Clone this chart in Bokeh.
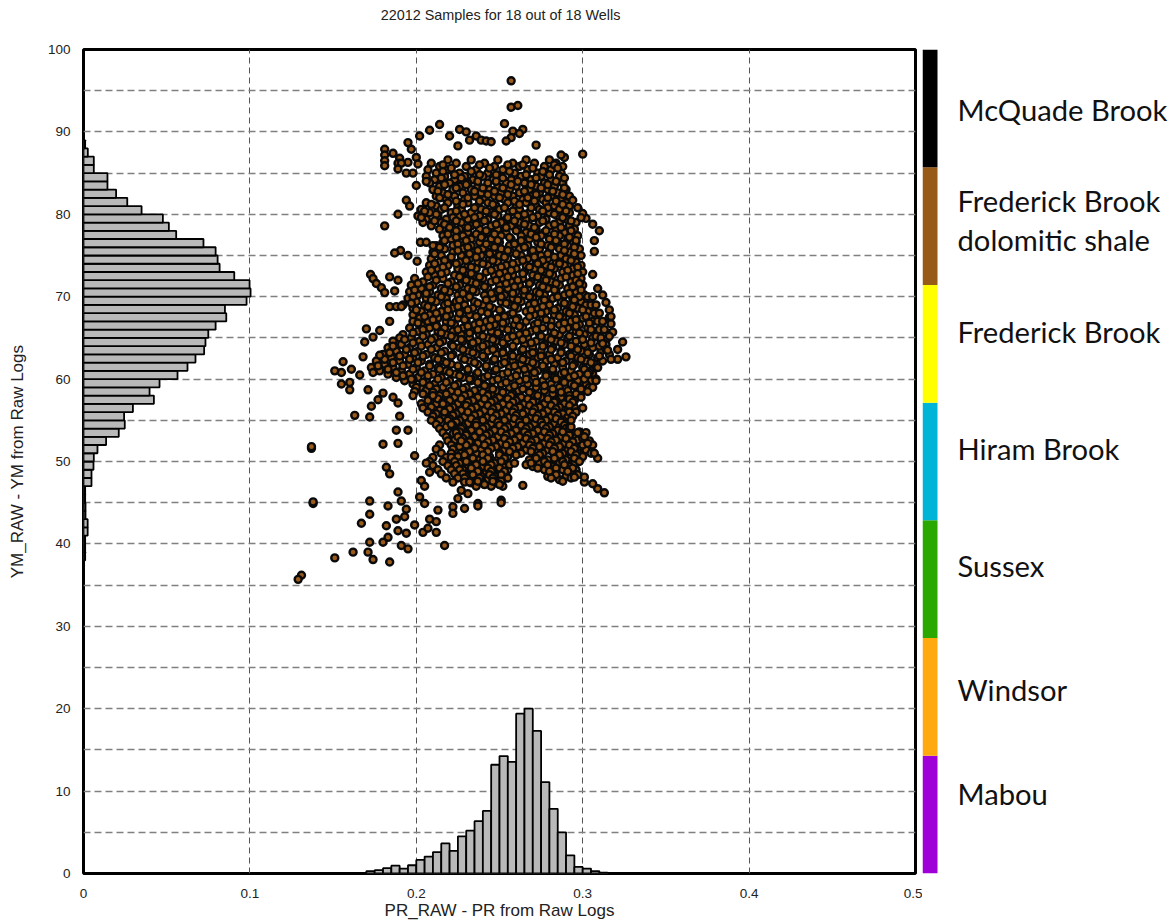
from bokeh.plotting import figure
from bokeh.layouts import row, column
from bokeh.models import FixedTicker, Grid, Range1d, ColumnDataSource
from bokeh.core.properties import value
from bokeh.embed import file_html
from bokeh.resources import INLINE

title_text = "22012 Samples for 18 out of 18 Wells"
x_label = "PR_RAW - PR from Raw Logs"
y_label = "YM_RAW - YM from Raw Logs"
x_ticks = [0, 0.1, 0.2, 0.3, 0.4, 0.5]
y_ticks = [0, 10, 20, 30, 40, 50, 60, 70, 80, 90, 100]

pr_bin_lo = [.17,.175,.18,.185,.19,.195,.2,.205,.21,.215,.22,.225,.23,.235,.24,.245,.25,.255,.26,.265,.27,.275,.28,.285,.29,.295,.3,.305,.31]
pr_hist = [.3,.4,.65,.95,.6,1.0,1.65,2.05,2.6,3.65,2.75,4.5,5.2,6.35,7.6,13.2,14.25,13.55,19.4,20,17.3,11.1,7.85,5,2.2,.8,.6,.3,.1]

ym_bin_lo = [38,39,40,41,42,43,44,45,46,47,48,49,50,51,52,53,54,55,56,57,58,59,60,61,62,63,64,65,66,67,68,69,70,71,72,73,74,75,76,77,78,79,80,81,82,83,84,85,86,87,88]
ym_hist = [.001,.001,.001,.0025,.0025,.0012,.0012,.001,.001,.0048,.0048,.006,.0062,.0084,.0136,.0212,.0248,.0244,.0297,.0423,.0397,.0457,.0565,.0625,.0673,.0725,.0733,.075,.0794,.0858,.085,.098,.1004,.0998,.0906,.0818,.0806,.0794,.0721,.0557,.0513,.0477,.0349,.0263,.0196,.0144,.0144,.0062,.0062,.0026,.001]

# outlying samples read one by one
sparse_pr = [.257,.257,.261,.253,.214,.208,.202,.226,.230,.220,.236,.264,.258,.262,.257,.254,.195,.197,.181,.186,.200,.181,.181,.181,.190,.189,.195,.191,.201,.189,.194,.198,.225,.232,.239,.242,.245,.272,.300,.289,.287,.200,.194,.196,.189,.181,.310,.306,.302,.300,.297,.294,.307,.307,.306,.309,.312,.314,.316,.316,
             .2025,.206,.210,.1905,.187,.195,.2005,.1725,.174,.176,.179,.181,.184,.189,.187,.184,.188,.191,.170,.178,.174,.169,.184,.168,.178,.156,.151,.155,.161,.166,.155,.160,.160,.171,.180,.177,.173,.189,.186,.163,.172,.190,.188,.180,.189,.137,.137,.195,.199,.206,.182,.184,.208,.203,.205,.189,.191,.202,.205,.172,.183,.172,.138,.138,.213,.222,.222,.229,.237,.237,.251,.251,.225,.227,.231,.264,.259,.269,.313,.309,.306,.301,.301,.295,.309,.307,.303,.301,.297,.293,.293,
             .167,.182,.188,.194,.193,.189,.194,.199,.204,.212,.208,.212,.207,.183,.172,.180,.171,.174,.162,.151,.191,.195,.184,.217,.131,.129,.324,.326,.321,.321,.317,.312,.315,.318,.317,.317,.316,.303,.308,.299]
sparse_ym = [96.2,93.0,93.2,91.0,90.9,90.2,89.5,90.3,90.0,89.5,89.5,90.3,90.1,89.8,89.3,88.9,88.7,87.9,87.9,87.4,86.9,87.2,86.5,85.9,86.8,86.2,86.3,86.2,86.1,85.5,85.0,85.0,88.3,89.0,89.0,88.9,88.8,88.4,87.3,86.9,87.2,83.5,81.7,81.0,80.0,78.6,78.0,78.8,79.5,80.1,80.8,81.7,76.8,75.5,72.7,71.0,70.2,69.3,68.4,67.5,
             76.6,76.6,76.2,75.6,75.3,75.0,74.3,72.7,72.2,71.6,71.1,70.5,72.4,72.0,70.7,68.8,68.8,68.8,66.1,65.9,65.1,64.5,67.0,62.7,62.9,62.1,61.0,60.8,61.2,60.5,59.4,59.6,58.7,58.7,58.3,57.5,56.7,57.1,57.8,55.6,55.4,55.5,53.8,52.1,52.2,51.6,51.8,53.8,50.7,49.8,49.3,48.5,48.7,47.7,47.0,46.3,45.2,45.7,44.9,45.2,44.6,43.6,44.9,45.1,44.1,44.5,43.7,44.3,44.9,44.6,45.3,45.0,45.5,46.5,46.1,47.1,49.8,49.8,46.2,46.7,47.3,47.5,48.1,48.1,50.4,51.0,52.2,53.0,53.5,54.2,55.0,
             42.5,42.2,43.0,44.2,43.3,41.6,41.3,42.3,41.4,41.4,43.0,42.7,41.9,40.8,40.2,40.2,39.0,38.1,39.0,38.3,39.8,39.4,37.8,39.8,36.2,35.7,64.5,62.7,63.6,62.4,62.4,64.3,63.5,65.7,66.7,67.6,65.2,60.6,59.8,79.6]

# the dense body of the cloud, read band by band: (YM, PR values in that band)
body_rows = [
 (86.2,[.209,.224,.241,.258,.271,.284]),
 (85.8,[.214,.230,.247,.262,.277,.288]),
 (85.4,[.207,.219,.236,.252,.267,.281]),
 (85.0,[.212,.226,.243,.259,.273,.287]),
 (84.6,[.206,.217,.229,.240,.251,.263,.275,.286]),
 (84.2,[.211,.223,.234,.246,.257,.269,.281]),
 (83.8,[.208,.220,.231,.243,.254,.265,.277,.288]),
 (83.4,[.214,.226,.237,.249,.260,.272,.283]),
 (83.0,[.210,.222,.233,.244,.256,.268,.279,.290]),
 (82.6,[.216,.228,.239,.251,.262,.274,.285]),
 (82.2,[.212,.223,.235,.247,.258,.269,.281,.292]),
 (81.8,[.218,.229,.241,.253,.264,.276,.287]),
 (81.4,[.206,.219,.231,.243,.255,.266,.278,.290]),
 (81.0,[.212,.225,.237,.248,.260,.272,.283,.292]),
 (80.6,[.203,.215,.227,.239,.250,.262,.274,.286]),
 (80.2,[.208,.221,.233,.245,.256,.268,.280,.292]),
 (79.8,[.201,.213,.226,.238,.249,.261,.273,.285]),
 (79.4,[.206,.218,.231,.243,.254,.266,.278,.290]),
 (79.0,[.204,.215,.227,.239,.251,.262,.274,.286,.296]),
 (78.6,[.209,.221,.233,.245,.257,.268,.280,.292]),
 (78.2,[.214,.226,.238,.249,.261,.272,.284,.295]),
 (77.8,[.219,.231,.243,.254,.266,.277,.289]),
 (77.4,[.216,.228,.240,.251,.263,.275,.286,.297]),
 (77.0,[.221,.233,.245,.257,.268,.280,.291]),
 (76.6,[.216,.227,.238,.250,.262,.273,.285,.296]),
 (76.2,[.212,.222,.233,.244,.256,.267,.279,.291]),
 (75.8,[.217,.228,.240,.251,.262,.274,.286,.298]),
 (75.4,[.210,.222,.234,.246,.257,.269,.280,.292]),
 (75.0,[.215,.227,.239,.250,.263,.275,.287,.299]),
 (74.6,[.209,.220,.232,.244,.255,.267,.279,.290]),
 (74.2,[.214,.226,.237,.249,.261,.272,.284,.296]),
 (73.8,[.208,.219,.231,.243,.254,.266,.278,.289,.299]),
 (73.4,[.213,.225,.236,.248,.260,.271,.283,.294]),
 (73.0,[.206,.218,.230,.242,.253,.265,.277,.288,.300]),
 (72.6,[.211,.223,.235,.247,.258,.270,.282,.294]),
 (72.2,[.199,.216,.228,.240,.252,.264,.276,.287,.299]),
 (71.8,[.204,.221,.233,.245,.257,.269,.281,.293]),
 (71.4,[.197,.210,.226,.238,.250,.262,.274,.286,.300]),
 (71.0,[.203,.215,.231,.243,.255,.267,.279,.291]),
 (70.6,[.196,.208,.220,.236,.248,.260,.272,.284,.296]),
 (70.2,[.201,.213,.225,.241,.253,.265,.277,.289,.301]),
 (69.8,[.195,.206,.218,.230,.246,.258,.270,.282,.294]),
 (69.4,[.200,.212,.224,.235,.251,.263,.275,.287,.299]),
 (69.0,[.192,.205,.217,.229,.240,.256,.268,.280,.292,.302]),
 (68.6,[.198,.210,.222,.234,.246,.261,.273,.285,.297]),
 (68.2,[.203,.215,.227,.239,.251,.266,.278,.290,.303]),
 (67.8,[.198,.208,.220,.232,.244,.256,.271,.283,.295]),
 (67.4,[.202,.213,.225,.237,.249,.261,.276,.288,.300]),
 (67.0,[.198,.207,.218,.230,.242,.254,.266,.281,.293,.306]),
 (66.6,[.203,.212,.223,.235,.247,.259,.271,.286,.298]),
 (66.2,[.196,.208,.217,.228,.240,.252,.264,.276,.291,.303]),
 (65.8,[.201,.213,.222,.233,.245,.257,.269,.281,.296,.308]),
 (65.4,[.192,.206,.218,.227,.238,.250,.262,.274,.286,.301]),
 (65.0,[.190,.197,.211,.223,.232,.243,.255,.267,.279,.291,.306]),
 (64.6,[.186,.202,.216,.228,.237,.248,.260,.272,.284,.296,.311]),
 (64.2,[.191,.207,.221,.233,.242,.253,.265,.277,.289,.301,.314]),
 (63.8,[.183,.196,.212,.226,.238,.247,.258,.270,.282,.294,.306]),
 (63.4,[.188,.201,.217,.231,.243,.252,.263,.275,.287,.299,.311]),
 (63.0,[.180,.193,.206,.222,.236,.248,.257,.268,.280,.292,.304,.316]),
 (62.6,[.185,.198,.211,.227,.241,.253,.262,.273,.285,.297,.309]),
 (62.2,[.176,.190,.203,.216,.232,.246,.258,.267,.278,.290,.302,.312]),
 (61.8,[.181,.195,.208,.221,.237,.251,.263,.272,.283,.295,.307]),
 (61.4,[.173,.186,.200,.213,.226,.242,.256,.268,.277,.288,.300,.309]),
 (61.0,[.178,.191,.205,.218,.231,.247,.261,.273,.282,.293,.305]),
 (60.6,[.183,.196,.210,.223,.236,.252,.266,.278,.287,.298,.306]),
 (60.2,[.188,.201,.215,.228,.241,.257,.271,.283,.292,.303]),
 (59.8,[.193,.206,.220,.233,.246,.262,.276,.288,.297,.305]),
 (59.4,[.198,.211,.225,.238,.251,.267,.281,.293,.302]),
 (59.0,[.203,.216,.230,.243,.256,.272,.286,.298,.304]),
 (58.6,[.206,.221,.235,.248,.261,.277,.291,.301]),
 (58.2,[.204,.218,.232,.245,.258,.270,.282,.296]),
 (57.8,[.209,.223,.237,.250,.263,.275,.287,.299]),
 (57.4,[.207,.220,.234,.247,.260,.272,.284,.295]),
 (57.0,[.212,.225,.239,.252,.265,.277,.289]),
 (56.6,[.209,.222,.236,.249,.262,.274,.286,.295]),
 (56.2,[.214,.227,.241,.254,.267,.279,.291]),
 (55.8,[.212,.224,.238,.251,.264,.276,.288]),
 (55.4,[.217,.229,.243,.256,.269,.281,.291]),
 (55.0,[.214,.226,.240,.253,.266,.278,.288]),
 (54.6,[.219,.231,.245,.258,.271,.283]),
 (54.2,[.218,.228,.242,.255,.268,.280,.286]),
 (53.8,[.223,.233,.247,.260,.273,.285,.291]),
 (53.4,[.222,.230,.244,.257,.270,.282,.295]),
 (53.0,[.226,.235,.249,.262,.275,.287,.296]),
 (52.6,[.223,.232,.246,.259,.272,.284,.297]),
 (52.2,[.228,.237,.251,.264,.277,.289,.302]),
 (51.8,[.226,.234,.248,.261,.274,.286,.299]),
 (51.4,[.231,.239,.253,.266,.279,.291,.302]),
 (51.0,[.227,.236,.250,.263,.276,.288,.297]),
 (50.6,[.225,.233,.244,.255,.271,.283,.293,.300]),
 (50.2,[.229,.238,.249,.268,.279,.290]),
 (49.8,[.226,.235,.247,.254,.274,.286,.295]),
 (49.4,[.231,.240,.252,.270,.282,.292]),
 (49.0,[.228,.237,.246,.255,.277,.288,.296]),
 (48.6,[.233,.242,.250,.282,.293]),
 (48.2,[.230,.239,.247,.254,.279,.290]),
 (47.8,[.235,.243,.252,.286]),
 (47.4,[.233,.240,.248]),
 (47.0,[.236,.245,.252]),
]

# a second reading of the same body, filling what the first leaves open
body_rows_b = [
 (86.6,[.219,.233,.249,.266,.280]),
 (86.0,[.216,.238,.255,.264,.283]),
 (85.6,[.221,.244,.270,.285]),
 (85.2,[.216,.233,.256,.276]),
 (84.8,[.223,.238,.248,.266,.280]),
 (84.4,[.215,.227,.252,.272,.289]),
 (84.0,[.206,.237,.248,.261,.284]),
 (83.6,[.217,.230,.257,.269,.279]),
 (83.2,[.224,.240,.252,.275,.289]),
 (82.8,[.213,.235,.247,.265,.282]),
 (82.4,[.219,.243,.255,.272,.288]),
 (82.0,[.214,.231,.250,.267,.279]),
 (81.6,[.224,.238,.259,.271,.284]),
 (81.2,[.209,.228,.246,.262,.288]),
 (80.8,[.217,.235,.253,.269,.279]),
 (80.4,[.205,.224,.242,.258,.276,.290]),
 (80.0,[.212,.229,.247,.265,.283]),
 (79.6,[.203,.222,.235,.255,.270,.288]),
 (79.2,[.211,.224,.241,.259,.276,.293]),
 (78.8,[.217,.236,.248,.265,.283]),
 (78.4,[.220,.231,.254,.271,.287]),
 (78.0,[.224,.242,.260,.278,.293]),
 (77.6,[.219,.236,.247,.269,.283]),
 (77.2,[.224,.239,.256,.272,.292]),
 (76.8,[.217,.230,.249,.263,.284,.296]),
 (76.4,[.225,.242,.259,.275,.289]),
 (76.0,[.214,.231,.247,.265,.281,.295]),
 (75.6,[.225,.237,.255,.270,.289]),
 (75.2,[.211,.232,.244,.260,.279,.295]),
 (74.8,[.221,.236,.253,.271,.283]),
 (74.4,[.217,.230,.246,.264,.276,.293]),
 (74.0,[.211,.224,.240,.258,.273,.286]),
 (73.6,[.216,.233,.251,.268,.281,.297]),
 (73.2,[.209,.228,.245,.257,.275,.291]),
 (72.8,[.215,.233,.250,.264,.280,.297]),
 (72.4,[.207,.226,.238,.255,.273,.290]),
 (72.0,[.212,.230,.248,.261,.278,.296]),
 (71.6,[.201,.219,.236,.254,.268,.284,.298]),
 (71.2,[.208,.224,.241,.259,.276,.294]),
 (70.8,[.199,.217,.234,.250,.265,.283,.299]),
 (70.4,[.206,.228,.245,.258,.274,.292]),
 (70.0,[.198,.215,.232,.251,.268,.285,.298]),
 (69.6,[.209,.226,.242,.261,.277,.295]),
 (69.2,[.197,.219,.237,.254,.271,.289]),
 (68.8,[.207,.225,.244,.259,.276,.294]),
 (68.4,[.200,.219,.231,.250,.269,.283,.300]),
 (68.0,[.212,.226,.243,.258,.275,.292]),
 (67.6,[.205,.218,.236,.253,.268,.286,.302]),
 (67.2,[.210,.229,.245,.260,.278,.296]),
 (66.8,[.201,.221,.238,.252,.273,.289,.304]),
 (66.4,[.212,.231,.244,.262,.281,.296]),
 (66.0,[.204,.225,.237,.255,.272,.288,.305]),
 (65.6,[.198,.215,.232,.249,.266,.283,.298,.310]),
 (65.2,[.204,.221,.240,.258,.275,.292,.308]),
 (64.8,[.193,.209,.227,.246,.264,.281,.300]),
 (64.4,[.198,.214,.234,.252,.269,.287,.305]),
 (64.0,[.186,.203,.222,.240,.258,.276,.293,.310]),
 (63.6,[.194,.209,.228,.246,.264,.281,.297,.314]),
 (63.2,[.184,.199,.215,.234,.252,.270,.287,.303]),
 (62.8,[.190,.204,.221,.240,.258,.275,.293,.310]),
 (62.4,[.181,.196,.213,.229,.247,.264,.281,.299]),
 (62.0,[.186,.201,.218,.235,.253,.270,.288,.305]),
 (61.6,[.177,.192,.208,.225,.242,.259,.276,.294]),
 (61.2,[.183,.198,.214,.231,.248,.265,.282,.301]),
 (60.8,[.174,.188,.203,.220,.237,.255,.271,.289,.304]),
 (60.4,[.192,.207,.226,.243,.260,.278,.295]),
 (60.0,[.198,.213,.232,.249,.266,.284,.301]),
 (59.6,[.204,.218,.237,.254,.272,.289]),
 (59.2,[.208,.223,.241,.259,.277,.295]),
 (58.8,[.212,.228,.246,.264,.282,.299]),
 (58.4,[.210,.225,.240,.252,.268,.287]),
 (58.0,[.214,.229,.243,.257,.273,.292]),
 (57.6,[.213,.227,.241,.255,.267,.279,.292]),
 (57.2,[.216,.231,.245,.258,.270,.283,.294]),
 (56.8,[.218,.230,.243,.256,.268,.281,.292]),
 (56.4,[.220,.233,.246,.259,.271,.284]),
 (56.0,[.217,.231,.245,.258,.270,.283,.292]),
 (55.6,[.222,.235,.248,.260,.273,.285]),
 (55.2,[.220,.233,.246,.259,.272,.284]),
 (54.8,[.224,.236,.249,.262,.275,.287]),
 (54.4,[.222,.236,.250,.263,.276,.289]),
 (54.0,[.227,.240,.253,.266,.278,.290]),
 (53.6,[.226,.238,.251,.265,.277,.288,.298]),
 (53.2,[.230,.242,.254,.267,.280,.292]),
 (52.8,[.228,.240,.253,.266,.279,.290,.300]),
 (52.4,[.232,.243,.256,.269,.281,.294]),
 (52.0,[.230,.241,.254,.268,.280,.292,.300]),
 (51.6,[.235,.245,.258,.270,.283,.295]),
 (51.2,[.232,.243,.256,.269,.282,.293]),
 (50.8,[.229,.240,.250,.260,.274,.286,.296]),
 (50.4,[.234,.243,.253,.272,.283,.295]),
 (50.0,[.230,.240,.251,.277,.288,.298]),
 (49.6,[.236,.245,.256,.266,.279,.289]),
 (49.2,[.233,.243,.250,.273,.284,.294]),
 (48.8,[.237,.245,.253,.280,.291]),
 (48.4,[.234,.244,.251,.284,.297]),
 (48.0,[.238,.246,.255,.281,.293]),
 (47.6,[.237,.246,.251,.288]),
 (47.2,[.241,.250]),
]

# samples along the edges of the body, lower left and right
body_rows_c = [
 (70.0,[.303,.306]),(69.0,[.305,.308]),(68.0,[.307,.310]),(67.0,[.309,.312]),
 (66.0,[.310,.313]),(65.0,[.311,.315]),
 (60.0,[.197,.308]),(59.0,[.200,.306]),(58.5,[.199,.303]),(58.0,[.198,.210]),
 (57.0,[.203,.216]),(56.5,[.204,.300]),(56.0,[.207,.296]),(55.5,[.210,.294]),
 (55.0,[.209,.219]),(54.5,[.212,.221]),(54.0,[.214,.292]),(53.5,[.216,.224,.302]),
 (53.0,[.218,.225]),(52.5,[.219,.227,.304]),(52.0,[.214,.221,.306]),(51.5,[.212,.222]),
 (51.0,[.215,.221,.305]),(50.5,[.210,.218,.221]),(50.0,[.208,.216,.223]),(49.5,[.210,.219,.224]),
 (49.0,[.213,.221,.226]),(48.5,[.215,.223,.228]),(48.0,[.218,.225,.229]),(47.5,[.222,.229,.232]),
]

legend_names = ["Mabou", "Windsor", "Sussex", "Hiram Brook", "Frederick Brook", "Frederick Brook", "McQuade Brook"]
band_colors = ["#a000d8", "#ffa90f", "#2aa800", "#00b4d8", "#ffff00", "#985a17", "#000000"]
band_lo = [0, 1, 2, 3, 4, 5, 6]

all_rows = body_rows + body_rows_b + body_rows_c
body_pr = [x for ym, xs in all_rows for x in xs]
body_ym = [ym for ym, xs in all_rows for x in xs]

t = figure(width=1160, height=28, x_range=Range1d(0, 1160), y_range=Range1d(0, 28),
           output_backend="svg", toolbar_location=None,
           min_border_left=0, min_border_right=0, min_border_top=0, min_border_bottom=0)
t.axis.visible = False
t.grid.visible = False
t.outline_line_color = None
t.text(x=[500], y=[14], text=[title_text], text_font=value("Liberation Sans"), text_font_size="14.4px",
       text_align="center", text_baseline="middle", text_color="#222222")

p = figure(frame_width=832, frame_height=824, x_range=Range1d(0, 0.5), y_range=Range1d(0, 100),
           output_backend="svg", toolbar_location=None, margin=(0, 0, 0, 4),
           min_border_left=71, min_border_top=21, min_border_bottom=47, min_border_right=7)
p.background_fill_color = "white"
p.outline_line_color = "black"
p.outline_line_width = 3
p.grid.visible = False

p.add_layout(Grid(dimension=0, ticker=FixedTicker(ticks=[.1, .2, .3, .4]),
                  grid_line_color="#555555", grid_line_width=1, grid_line_dash="6 4"))
p.add_layout(Grid(dimension=1, ticker=FixedTicker(ticks=list(range(5, 100, 5))),
                  grid_line_color="#808080", grid_line_width=1.4, grid_line_dash="7 4"))

for ax, ticks, label in ((p.xaxis[0], x_ticks, x_label), (p.yaxis[0], y_ticks, y_label)):
    ax.ticker = FixedTicker(ticks=ticks)
    ax.axis_line_color = None
    ax.major_tick_line_color = None
    ax.minor_tick_line_color = None
    ax.major_label_text_font = "Liberation Sans"
    ax.major_label_text_font_size = "13.5px"
    ax.major_label_text_color = "#222222"
    ax.axis_label = label
    ax.axis_label_text_font = "Liberation Sans"
    ax.axis_label_text_font_style = "normal"
    ax.axis_label_text_font_size = "17px"
    ax.axis_label_text_color = "#222222"
p.xaxis[0].major_label_overrides = {0: "0", 0.1: "0.1", 0.2: "0.2", 0.3: "0.3", 0.4: "0.4", 0.5: "0.5"}
p.xaxis[0].major_label_standoff = 9
p.xaxis[0].axis_label_standoff = 0
p.yaxis[0].major_label_standoff = 7
p.yaxis[0].axis_label_standoff = 18

p.quad(left=pr_bin_lo, right=[x + 0.005 for x in pr_bin_lo], bottom=0, top=pr_hist,
       fill_color="#b9b9b9", line_color="black", line_width=1.8)
p.quad(left=0, right=ym_hist, bottom=ym_bin_lo, top=[y + 1 for y in ym_bin_lo],
       fill_color="#b9b9b9", line_color="black", line_width=1.8)

src = ColumnDataSource(dict(x=body_pr + sparse_pr, y=body_ym + sparse_ym))
p.scatter("x", "y", source=src, marker="circle", size=7, fill_color="#9a5a1a",
          line_color="#0a0a0a", line_width=2.4)

q = figure(width=246, frame_height=824, x_range=Range1d(0, 246), y_range=Range1d(0, 7),
           output_backend="svg", toolbar_location=None,
           min_border_left=0, min_border_right=0, min_border_top=21, min_border_bottom=47)
q.axis.visible = False
q.grid.visible = False
q.outline_line_color = None
q.quad(left=0, right=15, bottom=band_lo, top=[b + 1 for b in band_lo], fill_color=band_colors, line_color=None)

lab_font = dict(text_font=value("Lato"), text_font_size="29.2px", text_baseline="middle", text_color="#111111")
q.text(x=[35] * 7, y=[0.677, 1.563, 2.62, 3.613, 4.605, 5.72, 6.49],
       text=legend_names, **lab_font)
q.text(x=[35], y=[5.39], text=["dolomitic shale"], **lab_font)

open("out.html", "w").write(file_html(column(t, row(p, q, spacing=0), spacing=0), INLINE))
